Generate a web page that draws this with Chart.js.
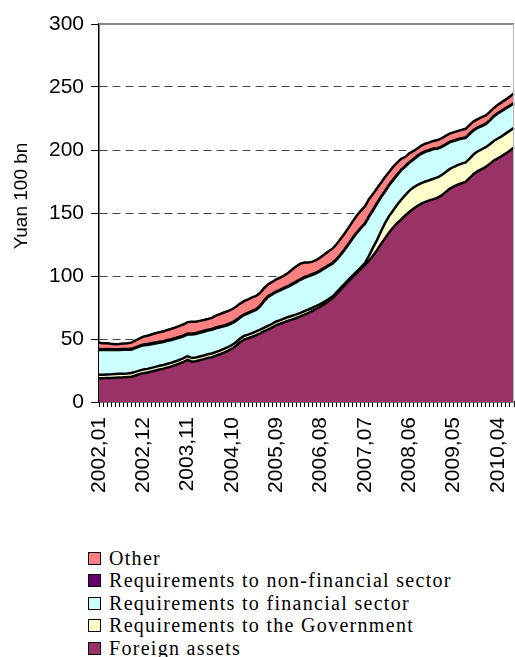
<!DOCTYPE html>
<html>
<head>
<meta charset="utf-8">
<script src="https://cdn.jsdelivr.net/npm/chart.js@4.4.1/dist/chart.umd.min.js"></script>
<style>
  body { margin: 0; background: #fff; }
  #wrap { position: relative; width: 515px; height: 657px; }
  #legend {
    position: absolute; left: 88px; top: 547px;
    font-family: "Liberation Serif", "Times New Roman", serif;
    font-size: 20px; line-height: 22.4px; letter-spacing: 1.3px; color: #000;
  }
  #legend div { white-space: nowrap; }
  #legend .box {
    display: inline-block; width: 11px; height: 11px;
    border: 1px solid #000; margin-right: 8px; vertical-align: 0px;
  }
</style>
</head>
<body>
<div id="wrap">
  <canvas id="chart" width="515" height="540"></canvas>
  <div id="legend"></div>
</div>
<script>
// monthly labels 2002,01 .. 2010,08
const months = [];
for (let y = 2002; y <= 2010; y++) {
  for (let m = 1; m <= 12; m++) {
    if (y === 2010 && m > 8) break;
    months.push(y + ',' + String(m).padStart(2, '0'));
  }
}
const shownTicks = ['2002,01', '2002,12', '2003,11', '2004,10', '2005,09',
                    '2006,08', '2007,07', '2008,06', '2009,05', '2010,04'];

// Yuan 100 bn
const foreignAssets = [
  18.8, 18.9, 19.0, 19.1, 19.3, 19.5, 19.6, 19.8, 20.1, 21.0, 22.0, 22.9,
  23.4, 24.2, 25.0, 25.8, 26.5, 27.5, 28.3, 29.4, 30.6, 31.9, 33.5, 32.0,
  32.4, 33.2, 34.0, 35.0, 35.6, 36.8, 37.9, 39.2, 40.6, 42.3, 44.6, 47.4,
  49.5, 50.6, 51.8, 53.1, 54.5, 56.2, 57.6, 59.2, 61.0, 62.1, 63.4, 64.6,
  65.6, 66.7, 67.9, 69.4, 70.8, 72.3, 74.0, 75.8, 77.9, 80.0, 82.4, 85.8,
  89.3, 92.6, 96.0, 99.2, 102.4, 105.6, 108.9, 112.0, 116.0, 120.5, 125.5, 130.0,
  134.5, 138.5, 142.0, 145.0, 148.0, 150.8, 153.4, 155.6, 157.4, 158.8, 160.0, 161.0,
  162.1, 164.0, 166.5, 169.2, 171.0, 172.4, 173.6, 174.6, 177.8, 181.0, 183.2, 184.9,
  186.6, 189.0, 191.6, 193.4, 195.2, 197.3, 199.6, 202.0
];
const government = [
  2.8, 2.8, 2.9, 2.9, 2.9, 2.9, 2.9, 2.9, 2.9, 2.9, 2.9, 2.9,
  2.9, 2.9, 2.9, 2.9, 2.9, 2.9, 2.9, 2.9, 2.9, 2.9, 2.9, 2.9,
  2.9, 2.9, 2.9, 2.9, 2.9, 2.9, 2.9, 2.9, 2.9, 2.9, 2.9, 2.9,
  2.9, 2.9, 2.9, 2.9, 2.9, 2.9, 2.9, 2.9, 2.9, 2.9, 2.9, 2.9,
  2.9, 2.8, 2.8, 2.8, 2.6, 2.5, 2.3, 2.1, 1.9, 1.7, 1.5, 1.4,
  1.3, 1.3, 1.3, 1.3, 1.3, 1.3, 1.3, 4.0, 6.5, 8.0, 10.0, 12.0,
  13.0, 13.5, 14.5, 15.5, 16.2, 16.8, 16.8, 16.5, 16.3, 16.2, 16.0, 16.2,
  16.1, 16.0, 15.8, 15.6, 15.5, 15.6, 15.6, 15.5, 15.4, 15.6, 15.8, 15.7,
  15.6, 15.5, 15.6, 15.7, 15.8, 15.9, 15.8, 15.7
];
const financialSector = [
  19.7, 19.5, 19.4, 19.2, 19.0, 18.8, 18.9, 18.7, 18.5, 18.8, 19.0, 19.2,
  19.0, 18.8, 18.6, 18.4, 18.2, 18.1, 18.0, 17.8, 17.6, 17.4, 17.3, 18.6,
  18.7, 18.8, 18.9, 18.8, 18.8, 18.8, 18.5, 18.0, 17.5, 17.2, 16.8, 16.5,
  16.6, 16.8, 17.0, 17.0, 18.5, 21.0, 23.0, 23.2, 23.4, 23.6, 23.8, 24.0,
  24.8, 25.6, 26.3, 26.4, 26.3, 26.2, 26.0, 26.2, 26.2, 26.4, 26.0, 25.8,
  26.2, 27.0, 28.0, 29.5, 30.5, 31.0, 31.0, 31.0, 29.5, 29.0, 27.0, 25.0,
  24.5, 24.0, 23.5, 23.5, 22.5, 22.2, 22.0, 22.8, 23.3, 23.5, 23.5, 23.5,
  22.8, 22.3, 21.8, 21.2, 20.6, 20.1, 19.8, 19.5, 19.5, 19.0, 18.5, 18.4,
  18.3, 18.8, 19.4, 19.9, 20.0, 19.8, 19.5, 19.3
];
const nonFinancialSector = [
  0.7, 0.7, 0.7, 0.7, 0.7, 0.7, 0.7, 0.7, 0.7, 0.7, 0.7, 0.7,
  0.7, 0.7, 0.7, 0.7, 0.7, 0.7, 0.7, 0.7, 0.7, 0.7, 0.7, 0.7,
  0.7, 0.7, 0.7, 0.7, 0.7, 0.7, 0.7, 0.7, 0.7, 0.7, 0.7, 0.7,
  0.6, 0.6, 0.6, 0.6, 0.6, 0.6, 0.6, 0.6, 0.6, 0.6, 0.6, 0.6,
  0.6, 0.6, 0.6, 0.6, 0.6, 0.6, 0.6, 0.6, 0.6, 0.6, 0.6, 0.6,
  0.5, 0.5, 0.5, 0.5, 0.5, 0.5, 0.5, 0.5, 0.5, 0.5, 0.5, 0.5,
  0.5, 0.5, 0.5, 0.5, 0.5, 0.5, 0.5, 0.5, 0.5, 0.5, 0.5, 0.5,
  0.4, 0.4, 0.4, 0.4, 0.4, 0.4, 0.4, 0.4, 0.4, 0.4, 0.4, 0.4,
  0.4, 0.4, 0.4, 0.4, 0.4, 0.4, 0.4, 0.4
];
const other = [
  5.0, 4.8, 4.6, 4.3, 4.0, 4.1, 4.3, 4.6, 4.9, 5.3, 5.8, 6.2,
  6.6, 7.0, 7.3, 7.5, 7.8, 8.0, 8.2, 8.4, 8.6, 8.8, 9.0, 9.4,
  9.0, 8.8, 8.6, 8.5, 8.8, 9.3, 9.8, 10.2, 10.4, 10.5, 10.6, 10.6,
  10.5, 10.6, 10.7, 10.6, 10.2, 9.8, 9.4, 9.4, 9.5, 9.6, 9.8, 10.5,
  11.5, 12.0, 12.2, 11.5, 10.5, 9.8, 9.8, 10.2, 10.6, 11.0, 11.4, 11.8,
  12.2, 12.5, 12.8, 13.0, 13.3, 13.5, 13.5, 13.5, 12.5, 11.6, 11.0, 11.0,
  10.0, 10.2, 9.5, 8.5, 7.2, 7.0, 6.3, 5.8, 6.0, 6.0, 6.0, 6.0,
  6.5, 6.5, 6.6, 6.6, 6.5, 6.5, 6.6, 6.8, 6.8, 6.7, 6.6, 6.6,
  6.6, 6.5, 6.4, 6.5, 6.6, 6.8, 7.2, 7.6
];

const yTicks = [0, 50, 100, 150, 200, 250, 300];
const yTitle = 'Yuan 100 bn';

// stacked bottom to top
const series = [
  { label: 'Foreign assets', data: foreignAssets, color: '#993366' },
  { label: 'Requirements to the Government', data: government, color: '#FFFFCC' },
  { label: 'Requirements to financial sector', data: financialSector, color: '#CCFFFF' },
  { label: 'Requirements to non-financial sector', data: nonFinancialSector, color: '#660066' },
  { label: 'Other', data: other, color: '#FF8080' }
];

const axisFont = { family: '"Liberation Sans", Arial, sans-serif', size: 21 };

// grey frame on top and right of the plot area
const framePlugin = {
  id: 'frame',
  afterDatasetsDraw(chart) {
    const { ctx, chartArea: a } = chart;
    ctx.save();
    ctx.strokeStyle = '#888';
    ctx.lineWidth = 2;
    ctx.beginPath();
    ctx.moveTo(a.left, a.top);
    ctx.lineTo(a.right, a.top);
    ctx.stroke();
    ctx.lineWidth = 1;
    ctx.strokeStyle = '#bbb';
    ctx.beginPath();
    ctx.moveTo(a.right - 0.5, a.top);
    ctx.lineTo(a.right - 0.5, a.bottom);
    ctx.stroke();
    ctx.restore();
  }
};

// y axis title, set a little above the middle of the axis
const yTitlePlugin = {
  id: 'yTitle',
  afterDraw(chart) {
    const { ctx, chartArea: a } = chart;
    ctx.save();
    ctx.translate(22, (a.top + a.bottom) / 2 - 17);
    ctx.rotate(-Math.PI / 2);
    ctx.font = '19px "Liberation Sans", Arial, sans-serif';
    ctx.fillStyle = '#000';
    ctx.textAlign = 'center';
    ctx.textBaseline = 'middle';
    ctx.fillText(yTitle, 0, 0);
    ctx.restore();
  }
};

const chart = new Chart(document.getElementById('chart'), {
  type: 'line',
  data: {
    labels: months,
    datasets: series.map((s, i) => ({
      label: s.label,
      data: s.data,
      backgroundColor: s.color,
      borderColor: '#000',
      borderWidth: 2.5,
      pointRadius: 0,
      tension: 0,
      fill: i === 0 ? 'origin' : '-1'
    }))
  },
  options: {
    responsive: false,
    devicePixelRatio: 1,
    animation: false,
    layout: { padding: { top: 24, right: 1, left: 0, bottom: 0 } },
    plugins: { legend: { display: false }, tooltip: { enabled: false } },
    scales: {
      x: {
        offset: false,
        grid: { drawOnChartArea: false, tickLength: 5, color: '#000', tickColor: '#000' },
        border: { color: '#000', width: 1.5 },
        ticks: {
          autoSkip: false, maxRotation: 90, minRotation: 90, padding: 10,
          color: '#000', font: axisFont,
          callback: function (v) {
            const l = this.getLabelForValue(v);
            return shownTicks.includes(l) ? l : '';
          }
        },
        afterFit: s => {
          s.height = 138;
          s.paddingLeft = 0;
          s.paddingRight = 0;
        }
      },
      y: {
        stacked: true,
        min: 0, max: 300,
        afterBuildTicks: s => { s.ticks = yTicks.map(v => ({ value: v })); },
        ticks: { padding: 7, color: '#000', font: axisFont },
        grid: {
          color: c => (c.tick && (c.tick.value === 0 || c.tick.value === 300)) ? 'rgba(0,0,0,0)' : '#444',
          tickColor: '#000', tickLength: 8, lineWidth: 1
        },
        border: { color: '#000', width: 1.5, dash: [8, 5] },
        afterFit: s => {
          s.width = 99;
          s.paddingTop = 0;
          s.paddingBottom = 0;
        }
      }
    }
  },
  plugins: [framePlugin, yTitlePlugin]
});

// legend, top entry is the top layer
const legend = document.getElementById('legend');
chart.data.datasets.slice().reverse().forEach(ds => {
  const row = document.createElement('div');
  const box = document.createElement('span');
  box.className = 'box';
  box.style.background = ds.backgroundColor;
  row.appendChild(box);
  row.appendChild(document.createTextNode(ds.label));
  legend.appendChild(row);
});
</script>
</body>
</html>
